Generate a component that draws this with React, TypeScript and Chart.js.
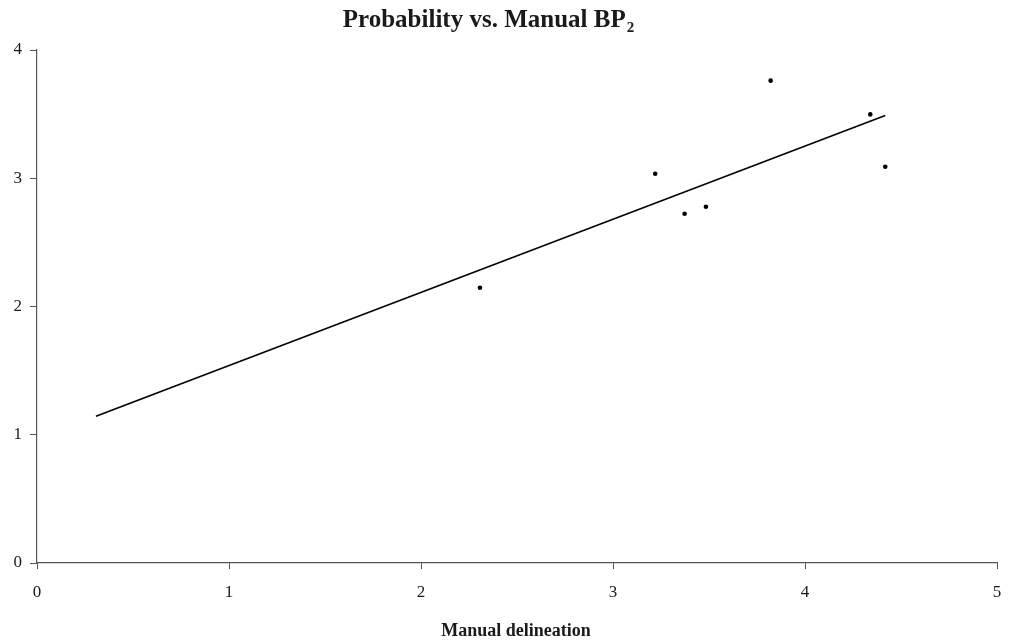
import React, { useEffect, useRef } from "react";
import { Chart, registerables } from "chart.js";

Chart.register(...registerables);

const pointsX = [2.307, 3.22, 3.373, 3.484, 3.821, 4.34, 4.418];
const pointsY = [2.146, 3.035, 2.723, 2.778, 3.761, 3.498, 3.09];
const trendX = [0.307, 4.418];
const trendY = [1.144, 3.49];
const xTicks = [0, 1, 2, 3, 4, 5];
const yTicks = [0, 1, 2, 3, 4];
const titleMain = "Probability vs. Manual BP";
const titleSub = "2";
const xTitle = "Manual delineation";

const FONT = "'Liberation Serif', 'Times New Roman', serif";

const textPlugin = {
  id: "customText",
  afterDraw(chart: any) {
    const ctx = chart.ctx;
    ctx.save();
    ctx.fillStyle = "#1a1a1a";
    ctx.textBaseline = "alphabetic";
    ctx.textAlign = "left";
    ctx.font = `bold 25px ${FONT}`;
    const w1 = ctx.measureText(titleMain).width;
    ctx.font = `bold 15px ${FONT}`;
    const w2 = ctx.measureText(titleSub).width;
    const total = w1 + w2;
    const cx = 488;
    const startX = cx - total / 2;
    ctx.font = `bold 25px ${FONT}`;
    ctx.fillText(titleMain, startX, 27);
    ctx.font = `bold 15px ${FONT}`;
    ctx.fillText(titleSub, startX + w1 + 1, 32);
    ctx.font = `bold 18px ${FONT}`;
    ctx.textAlign = "center";
    ctx.fillText(xTitle, 516, 636);
    ctx.restore();
  },
};

export default function App() {
  const ref = useRef<HTMLCanvasElement | null>(null);
  useEffect(() => {
    document.body.style.margin = "0";
    if (!ref.current) return;
    const chart = new Chart(ref.current, {
      type: "scatter",
      data: {
        datasets: [
          {
            label: "points",
            data: pointsX.map((x, i) => ({ x, y: pointsY[i] })),
            pointRadius: 2.3,
            pointBackgroundColor: "#000",
            pointBorderColor: "#000",
            pointBorderWidth: 0,
            showLine: false,
          },
          {
            label: "trend",
            data: trendX.map((x, i) => ({ x, y: trendY[i] })),
            showLine: true,
            pointRadius: 0,
            borderColor: "#000",
            borderWidth: 1.6,
            fill: false,
          },
        ],
      },
      options: {
        responsive: false,
        animation: false,
        layout: { padding: { left: 0, right: 13, top: 50, bottom: 0 } },
        plugins: {
          legend: { display: false },
          title: { display: false },
          tooltip: { enabled: false },
        },
        scales: {
          x: {
            type: "linear",
            min: 0,
            max: 5,
            afterBuildTicks: (s: any) => {
              s.ticks = xTicks.map((v) => ({ value: v }));
            },
            afterFit: (s: any) => {
              s.height = 77;
              s.paddingLeft = 0;
              s.paddingRight = 0;
            },
            grid: {
              drawOnChartArea: false,
              drawTicks: true,
              tickLength: 6,
              color: "#555",
              lineWidth: 1,
            },
            border: { color: "#555", width: 1.2 },
            ticks: {
              color: "#1a1a1a",
              font: { family: FONT, size: 17 },
              padding: 13,
              maxRotation: 0,
            },
          },
          y: {
            type: "linear",
            min: 0,
            max: 4,
            afterBuildTicks: (s: any) => {
              s.ticks = yTicks.map((v) => ({ value: v }));
            },
            afterFit: (s: any) => {
              s.width = 37;
              s.paddingTop = 0;
              s.paddingBottom = 0;
            },
            grid: {
              drawOnChartArea: false,
              drawTicks: true,
              tickLength: 7,
              color: "#555",
              lineWidth: 1,
            },
            border: { color: "#555", width: 1.2 },
            ticks: {
              color: "#1a1a1a",
              font: { family: FONT, size: 17 },
              padding: 8,
            },
          },
        },
      },
      plugins: [textPlugin],
    } as any);
    return () => chart.destroy();
  }, []);
  return (
    <div style={{ position: "absolute", left: 0, top: 0, width: 1010, height: 640 }}>
      <canvas ref={ref} width={1010} height={640} style={{ width: 1010, height: 640 }} />
    </div>
  );
}
